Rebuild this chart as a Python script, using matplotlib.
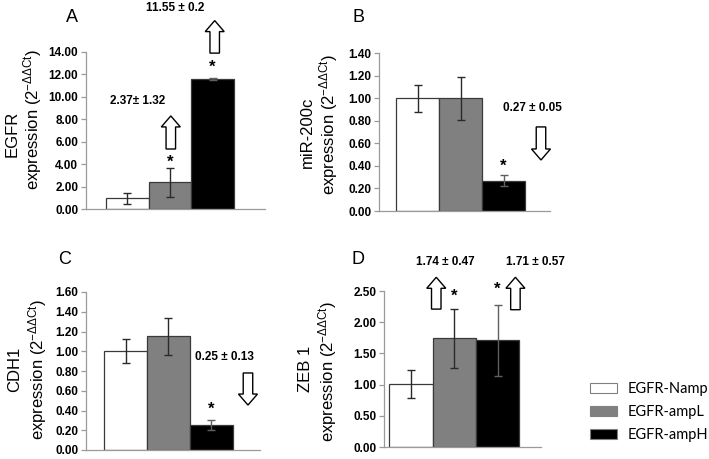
import matplotlib
matplotlib.use("Agg")
import matplotlib.pyplot as plt
from matplotlib.patches import FancyArrow, Patch

plt.rcParams['font.family'] = ['Liberation Sans', 'DejaVu Sans']
plt.rcParams['mathtext.fontset'] = 'custom'
plt.rcParams['mathtext.rm'] = 'Liberation Sans'
plt.rcParams['mathtext.it'] = 'Liberation Sans:italic'
plt.rcParams['mathtext.bf'] = 'Liberation Sans:bold'

categories = ['EGFR-Namp', 'EGFR-ampL', 'EGFR-ampH']
bar_colors = ['#ffffff', '#808080', '#000000']

egfr_vals = [0.95, 2.37, 11.6]
egfr_err = [0.47, 1.32, 0.12]
mir_vals = [1.00, 1.00, 0.27]
mir_err = [0.12, 0.19, 0.05]
cdh1_vals = [1.00, 1.15, 0.25]
cdh1_err = [0.12, 0.19, 0.05]
zeb1_vals = [1.01, 1.74, 1.71]
zeb1_err = [0.23, 0.47, 0.57]

panel_letters = ['A', 'B', 'C', 'D']
gene_names = ['EGFR', 'miR-200c', 'CDH1', 'ZEB 1']
yticks_list = [
    [0, 2, 4, 6, 8, 10, 12, 14],
    [0, 0.2, 0.4, 0.6, 0.8, 1.0, 1.2, 1.4],
    [0, 0.2, 0.4, 0.6, 0.8, 1.0, 1.2, 1.4, 1.6],
    [0, 0.5, 1.0, 1.5, 2.0, 2.5],
]
values_list = [egfr_vals, mir_vals, cdh1_vals, zeb1_vals]
errors_list = [egfr_err, mir_err, cdh1_err, zeb1_err]

# annotation texts (fold change ± sd)
ann_texts = [
    ['2.37\u00b1 1.32', '11.55 \u00b1 0.2'],
    ['0.27 \u00b1 0.05'],
    ['0.25 \u00b1 0.13'],
    ['1.74 \u00b1 0.47', '1.71 \u00b1 0.57'],
]

W, H = 709, 459
fig = plt.figure(figsize=(W / 100, H / 100), dpi=100)

def px_axes(l, r, b, t):
    return [l / W, 1 - b / H, (r - l) / W, (b - t) / H]

axes_px = [(86, 265, 209, 52), (379, 550, 211, 53), (86, 260, 450, 292), (384, 541, 447, 291)]
xlims = [(-0.97, 3.23), (-0.9, 3.08), (-0.92, 3.13), (-0.62, 3.0)]

# layout-only items
ann_pos = [[(0.25, 9.63), (1.12, 17.9)], [(2.66, 0.91)], [(2.31, 0.94)], [(0.79, 2.96), (2.87, 2.96)]]
arrows = [
    [(1.02, 5.35, 8.3), (2.05, 13.9, 16.8)],
    [(2.87, 0.745, 0.452)],
    [(2.85, 0.78, 0.455)],
    [(0.585, 2.21, 2.72), (2.41, 2.20, 2.72)],
]
star_pos = [[(1.0, 4.2), (2.0, 12.6)], [(2.0, 0.40)], [(2.0, 0.41)], [(1.0, 2.41), (1.99, 2.52)]]
letter_pos = [(72, 18), (359, 18), (65, 259), (358, 259)]
label_x = [(12, 33), (307, 329), (15, 38), (306, 328)]
label_y = [(134, 120), (132, 125), (369, 370), (369, 372)]

spine_col = '#9a9a9a'
for i in range(4):
    l, r, b, t = axes_px[i]
    ax = fig.add_axes(px_axes(l, r, b, t))
    vals = values_list[i]
    errs = errors_list[i]
    x = list(range(3))
    ax.bar(x, vals, width=1.0, color=bar_colors, edgecolor='#3a3a3a', linewidth=0.9, zorder=2)
    for j in range(3):
        ecol = '#606060' if j == 2 else '#2a2a2a'
        ax.errorbar(x[j], vals[j], yerr=errs[j], fmt='none', ecolor=ecol,
                    elinewidth=1.0, capsize=3, capthick=1.0, zorder=3)
    yt = yticks_list[i]
    ax.set_ylim(0, yt[-1])
    ax.set_xlim(*xlims[i])
    ax.set_yticks(yt)
    ax.set_yticklabels(['%.2f' % v for v in yt], fontsize=8.5, fontweight='bold')
    ax.set_xticks([])
    for s in ['top', 'right']:
        ax.spines[s].set_visible(False)
    for s in ['left', 'bottom']:
        ax.spines[s].set_color(spine_col)
        ax.spines[s].set_linewidth(0.9)
    ax.tick_params(axis='y', direction='out', length=3.5, width=0.9, color=spine_col, pad=2)
    ax.patch.set_alpha(0)

    span = xlims[i][1] - xlims[i][0]
    xscale = span / (r - l)
    yscale = yt[-1] / (b - t)
    for txt, (tx, ty) in zip(ann_texts[i], ann_pos[i]):
        ax.text(tx, ty, txt, ha='center', va='center', fontsize=8.5,
                fontweight='bold', clip_on=False)
    for (ax_x, y0, y1) in arrows[i]:
        arr = FancyArrow(ax_x, y0, 0, y1 - y0, width=9.5 * xscale, head_width=19 * xscale,
                         head_length=11 * yscale, length_includes_head=True,
                         facecolor='white', edgecolor='black', linewidth=1.0, clip_on=False, zorder=4)
        ax.add_patch(arr)
    for (sx, sy) in star_pos[i]:
        ax.text(sx, sy, '*', ha='center', va='center', fontsize=12, fontweight='bold', clip_on=False)

    fig.text(letter_pos[i][0] / W, 1 - letter_pos[i][1] / H, panel_letters[i],
             ha='center', va='center', fontsize=13)
    fig.text(label_x[i][0] / W, 1 - label_y[i][0] / H, gene_names[i], rotation=90,
             ha='center', va='center', fontsize=12)
    fig.text(label_x[i][1] / W, 1 - label_y[i][1] / H,
             r'expression (2$^{\mathrm{-\Delta\Delta Ct}}$)', rotation=90,
             ha='center', va='center', fontsize=12)

handles = [Patch(facecolor=c, edgecolor='#808080', linewidth=0.8) for c in bar_colors]
fig.legend(handles, categories, loc='center left', bbox_to_anchor=(590 / W, 1 - 412 / H),
           frameon=False, handlelength=1.85, handleheight=0.75,
           labelspacing=0.62, handletextpad=0.75, borderaxespad=0, borderpad=0,
           prop={'family': ['Lato', 'DejaVu Sans'], 'size': 10.5})

fig.savefig('out.png', dpi=100)
